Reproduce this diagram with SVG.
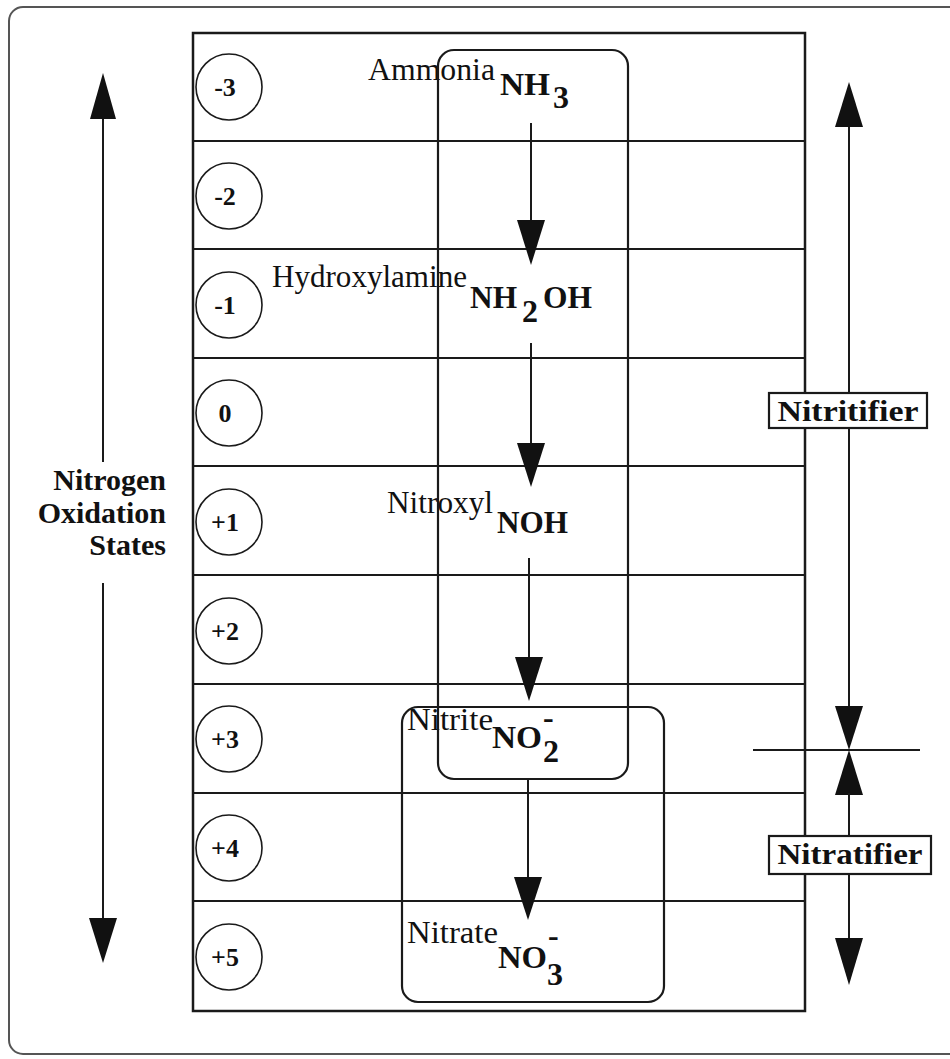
<svg xmlns="http://www.w3.org/2000/svg" width="950" height="1059" viewBox="0 0 950 1059">
<style>
  .ln{stroke:#1a1a1a;stroke-width:2;fill:none}
  .tbl{stroke:#1a1a1a;stroke-width:2.5;fill:none}
  .circ{stroke:#1a1a1a;stroke-width:1.6;fill:#fff}
  .box{stroke:#1a1a1a;stroke-width:2.2;fill:none}
  .lbl{stroke:#1a1a1a;stroke-width:2.2;fill:#fff}
  .num{font-family:"Liberation Serif","Times New Roman",serif;font-weight:bold;font-size:26px;fill:#111;text-anchor:middle}
  .name{font-family:"Liberation Serif","Times New Roman",serif;font-size:31px;fill:#111}
  .form{font-family:"Liberation Serif","Times New Roman",serif;font-weight:bold;font-size:32px;fill:#111}
  .bold{font-family:"Liberation Serif","Times New Roman",serif;font-weight:bold;font-size:30px;fill:#111}
  .head{fill:#111}
</style>
<rect width="950" height="1059" fill="#fff"/>
<rect x="9" y="7" width="960" height="1047" rx="14" fill="none" stroke="#555" stroke-width="2"/>

<g id="table">
  <rect class="tbl" x="193" y="33" width="612" height="978"/>
  <line class="ln" x1="193" y1="141" x2="805" y2="141"/>
  <line class="ln" x1="193" y1="249" x2="805" y2="249"/>
  <line class="ln" x1="193" y1="358" x2="805" y2="358"/>
  <line class="ln" x1="193" y1="466" x2="805" y2="466"/>
  <line class="ln" x1="193" y1="575" x2="805" y2="575"/>
  <line class="ln" x1="193" y1="684" x2="805" y2="684"/>
  <line class="ln" x1="193" y1="793" x2="805" y2="793"/>
  <line class="ln" x1="193" y1="901" x2="805" y2="901"/>
</g>

<g id="states">
  <g id="s-3"><circle class="circ" cx="229" cy="87" r="33"/><text class="num" x="225" y="96">-3</text></g>
  <g id="s-2"><circle class="circ" cx="229" cy="196" r="33"/><text class="num" x="225" y="205">-2</text></g>
  <g id="s-1"><circle class="circ" cx="229" cy="305" r="33"/><text class="num" x="225" y="314">-1</text></g>
  <g id="s0"><circle class="circ" cx="229" cy="413" r="33"/><text class="num" x="225" y="422">0</text></g>
  <g id="s+1"><circle class="circ" cx="229" cy="522" r="33"/><text class="num" x="225" y="531">+1</text></g>
  <g id="s+2"><circle class="circ" cx="229" cy="631" r="33"/><text class="num" x="225" y="640">+2</text></g>
  <g id="s+3"><circle class="circ" cx="229" cy="739" r="33"/><text class="num" x="225" y="748">+3</text></g>
  <g id="s+4"><circle class="circ" cx="229" cy="848" r="33"/><text class="num" x="225" y="857">+4</text></g>
  <g id="s+5"><circle class="circ" cx="229" cy="957" r="33"/><text class="num" x="225" y="966">+5</text></g>
</g>

<g id="ammonia">
  <text class="name" x="368" y="80" textLength="127" lengthAdjust="spacingAndGlyphs">Ammonia</text>
  <text class="form" x="500" y="95" textLength="50" lengthAdjust="spacingAndGlyphs">NH</text>
  <text class="form" x="553" y="108">3</text>
</g>
<g id="hydroxylamine">
  <text class="name" x="272" y="287" textLength="195" lengthAdjust="spacingAndGlyphs">Hydroxylamine</text>
  <text class="form" x="470" y="308" textLength="47" lengthAdjust="spacingAndGlyphs">NH</text>
  <text class="form" x="522" y="322">2</text>
  <text class="form" x="543" y="308" textLength="49" lengthAdjust="spacingAndGlyphs">OH</text>
</g>
<g id="nitroxyl">
  <text class="name" x="387" y="513" textLength="106" lengthAdjust="spacingAndGlyphs">Nitroxyl</text>
  <text class="form" x="497" y="533" textLength="71" lengthAdjust="spacingAndGlyphs">NOH</text>
</g>
<g id="nitrite">
  <text class="name" x="407" y="730" textLength="86" lengthAdjust="spacingAndGlyphs">Nitrite</text>
  <text class="form" x="492" y="748" textLength="50" lengthAdjust="spacingAndGlyphs">NO</text>
  <text class="form" x="543" y="728" font-size="26">-</text>
  <text class="form" x="543" y="762">2</text>
</g>
<g id="nitrate">
  <text class="name" x="407" y="943" textLength="91" lengthAdjust="spacingAndGlyphs">Nitrate</text>
  <text class="form" x="498" y="968" textLength="49" lengthAdjust="spacingAndGlyphs">NO</text>
  <text class="form" x="548" y="946" font-size="26">-</text>
  <text class="form" x="547" y="985">3</text>
</g>

<g id="nitritifier-box"><rect class="box" x="438" y="50" width="190" height="729" rx="16"/></g>
<g id="nitratifier-box"><rect class="box" x="402" y="707" width="262" height="295" rx="16"/></g>

<g id="connectors">
  <line class="ln" x1="531" y1="123" x2="531" y2="222"/>
  <polygon class="head" points="517,220 545,220 531,265"/>
  <line class="ln" x1="531" y1="343" x2="531" y2="445"/>
  <polygon class="head" points="517,443 545,443 531,487"/>
  <line class="ln" x1="529" y1="558" x2="529" y2="659"/>
  <polygon class="head" points="515,657 543,657 529,701"/>
  <line class="ln" x1="528" y1="779" x2="528" y2="879"/>
  <polygon class="head" points="514,877 542,877 528,920"/>

  <line class="ln" x1="103" y1="117" x2="103" y2="462"/>
  <polygon class="head" points="90,119 116,119 103,73"/>
  <line class="ln" x1="103" y1="583" x2="103" y2="920"/>
  <polygon class="head" points="89,918 117,918 103,963"/>

  <line class="ln" x1="849" y1="125" x2="849" y2="710"/>
  <polygon class="head" points="835,127 863,127 849,82"/>
  <polygon class="head" points="835,706 863,706 849,750"/>
  <line class="ln" x1="753" y1="750" x2="920" y2="750" stroke-width="1.5"/>
  <polygon class="head" points="835,795 863,795 849,750"/>
  <line class="ln" x1="849" y1="793" x2="849" y2="940"/>
  <polygon class="head" points="835,938 863,938 849,985"/>
</g>

<g id="axis-label">
  <text class="bold" text-anchor="end" x="166" y="490">Nitrogen</text>
  <text class="bold" text-anchor="end" x="166" y="523">Oxidation</text>
  <text class="bold" text-anchor="end" x="166" y="555">States</text>
</g>

<g id="nitritifier-label">
  <rect class="lbl" x="769" y="393" width="158" height="35"/>
  <text class="bold" x="848" y="421" text-anchor="middle" font-size="31" textLength="141" lengthAdjust="spacingAndGlyphs">Nitritifier</text>
</g>
<g id="nitratifier-label">
  <rect class="lbl" x="769" y="836" width="162" height="38"/>
  <text class="bold" x="850" y="864" text-anchor="middle" font-size="31" textLength="145" lengthAdjust="spacingAndGlyphs">Nitratifier</text>
</g>
</svg>
